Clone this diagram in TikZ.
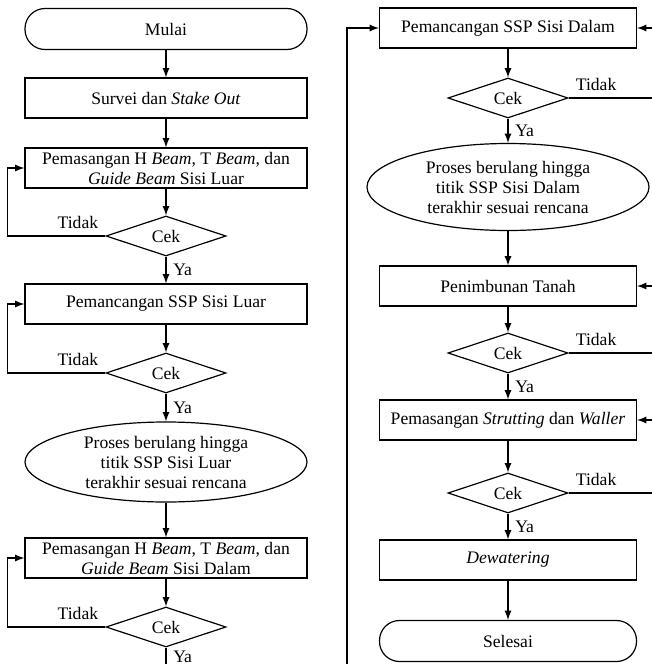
\documentclass[tikz,border=0pt]{standalone}
\usepackage{fontspec}
\setmainfont{Liberation Serif}
\usetikzlibrary{shapes.geometric}
\begin{document}
\begin{tikzpicture}
  [
  x=0.5pt, y=-0.5pt,
  font=\fontsize{8.8}{10}\selectfont,
  line width=0.6pt,
  terminal/.style={rectangle,draw,rounded corners=10pt,minimum width=141pt,minimum height=20.5pt},
  process/.style={rectangle,draw,align=center,inner sep=0.5pt,minimum width=141pt,minimum height=20pt},
  processR/.style={process,minimum width=128.5pt},
  decision/.style={diamond,draw,aspect=3,inner sep=0pt,minimum width=60pt,minimum height=20pt},
  repeat/.style={ellipse,draw,align=center,inner sep=0pt,minimum width=141pt,minimum height=40pt}
  ]
  \useasboundingbox (0,0) rectangle (652,664);
  % left column
  \node (mulai) at (166,29) [terminal] {Mulai};
  \node (survei) at (166,98) [process] {Survei dan \textit{Stake Out}};
  \node (hbeamL) at (166,168) [process] {Pemasangan H \textit{Beam}, T \textit{Beam}, dan\\\textit{Guide Beam} Sisi Luar};
  \node (cekA) at (166,236) [decision] {Cek};
  \node (sspL) at (166,304) [process] {Pemancangan SSP Sisi Luar};
  \node (cekB) at (166,373) [decision] {Cek};
  \node (ulangL) at (166,462) [repeat] {Proses berulang hingga\\titik SSP Sisi Luar\\terakhir sesuai rencana};
  \node (hbeamD) at (166,558) [process] {Pemasangan H \textit{Beam}, T \textit{Beam}, dan\\\textit{Guide Beam} Sisi Dalam};
  \node (cekC) at (166,627) [decision] {Cek};
  % right column
  \node (sspD) at (508,28) [processR] {Pemancangan SSP Sisi Dalam};
  \node (cekD) at (508,98) [decision] {Cek};
  \node (ulangD) at (508,187) [repeat, minimum height=43.5pt] {Proses berulang hingga\\titik SSP Sisi Dalam\\terakhir sesuai rencana};
  \node (timbun) at (508,286) [processR] {Penimbunan Tanah};
  \node (cekE) at (508,353) [decision] {Cek};
  \node (strut) at (508,420) [processR] {Pemasangan \textit{Strutting} dan \textit{Waller}};
  \node (cekF) at (508,493) [decision] {Cek};
  \node (dewater) at (508,560) [processR] {\textit{Dewatering}};
  \node (selesai) at (508,641) [terminal, minimum width=128.5pt] {Selesai};

  \draw [-latex] (mulai) to (survei);
  \draw [-latex] (survei) to (hbeamL);
  \draw [-latex] (hbeamL) to (cekA);
  \draw [-latex] (cekA) to node[right] {Ya} (sspL);
  \draw [-latex] (sspL) to (cekB);
  \draw [-latex] (cekB) to node[right] {Ya} (ulangL);
  \draw [-latex] (ulangL) to (hbeamD);
  \draw [-latex] (hbeamD) to (cekC);
  \draw [-latex] (cekA.west) node[above left] {Tidak} -- ++(-98,0) |- (hbeamL.west);
  \draw [-latex] (cekB.west) node[above left] {Tidak} -- ++(-98,0) |- (sspL.west);
  \draw [-latex] (cekC.west) node[above left] {Tidak} -- ++(-98,0) |- (hbeamD.west);
  \draw [-latex] (cekC.south) -- node[right, pos=0.2] {Ya} ++(0,45) -- ++(181,0) |- (sspD.west);

  \draw [-latex] (sspD) to (cekD);
  \draw [-latex] (cekD) to node[right] {Ya} (ulangD);
  \draw [-latex] (ulangD) to (timbun);
  \draw [-latex] (timbun) to (cekE);
  \draw [-latex] (cekE) to node[right] {Ya} (strut);
  \draw [-latex] (strut) to (cekF);
  \draw [-latex] (cekF) to node[right] {Ya} (dewater);
  \draw [-latex] (dewater) to (selesai);
  \draw [-latex] (cekD.east) node[above right] {Tidak} -- ++(92,0) |- (sspD.east);
  \draw [-latex] (cekE.east) node[above right] {Tidak} -- ++(92,0) |- (timbun.east);
  \draw [-latex] (cekF.east) node[above right] {Tidak} -- ++(92,0) |- (strut.east);
\end{tikzpicture}
\end{document}
